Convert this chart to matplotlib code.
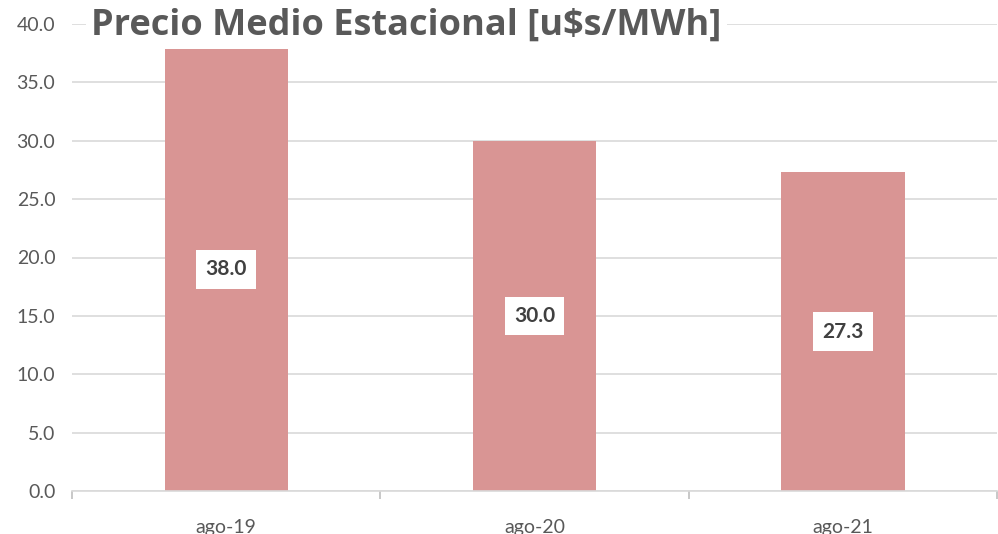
import matplotlib.pyplot as plt
import numpy as np

plt.rcParams['font.family'] = ['Lato', 'DejaVu Sans']

categories = ['ago-19', 'ago-20', 'ago-21']
precio = [38.0, 30.0, 27.3]
etiquetas = ['38.0', '30.0', '27.3']

bar_col = '#D99594'
txt_col = '#595959'

fig = plt.figure(figsize=(9.98, 5.34), dpi=100)
ax = fig.add_axes([72/998, 1-491/534, 925/998, 467/534])

x = np.arange(len(categories))
ax.bar(x, precio, width=0.4, color=bar_col, zorder=2)

for xi, v, lab in zip(x, precio, etiquetas):
    ax.text(xi, v/2, lab, ha='center', va='center', fontsize=15, fontweight='bold',
            color='#404040', zorder=3,
            bbox=dict(boxstyle='square,pad=0.45', fc='white', ec='none'))

ax.set_xlim(-0.5, len(categories)-0.5)
ax.set_ylim(0, 40)
ax.set_yticks(np.arange(0, 41, 5))
ax.set_yticklabels([f'{t:.1f}' for t in np.arange(0, 41, 5)])
ax.yaxis.grid(True, color='#D9D9D9', linewidth=1.2, zorder=0)
ax.set_axisbelow(True)

# category ticks on boundaries
ax.set_xticks(x)
ax.set_xticklabels(categories)
ax.set_xticks(np.arange(-0.5, len(categories), 1), minor=True)
ax.tick_params(axis='x', which='major', length=0, pad=20, labelsize=14, labelcolor=txt_col)
ax.tick_params(axis='x', which='minor', length=6, color='#BFBFBF', width=1.2)
ax.tick_params(axis='y', length=0, pad=12, labelsize=14, labelcolor=txt_col)

for s in ['top', 'right', 'left']:
    ax.spines[s].set_visible(False)
ax.spines['bottom'].set_color('#D9D9D9')
ax.spines['bottom'].set_linewidth(1.2)

fig.text(91/998, 1-35/534, 'Precio Medio Estacional [u$s/MWh]', ha='left', va='baseline',
         fontsize=26, fontweight='bold', color=txt_col, family=['Open Sans', 'DejaVu Sans'],
         bbox=dict(boxstyle='square,pad=0.15', fc='white', ec='none'))

fig.savefig('out.png', dpi=100)
